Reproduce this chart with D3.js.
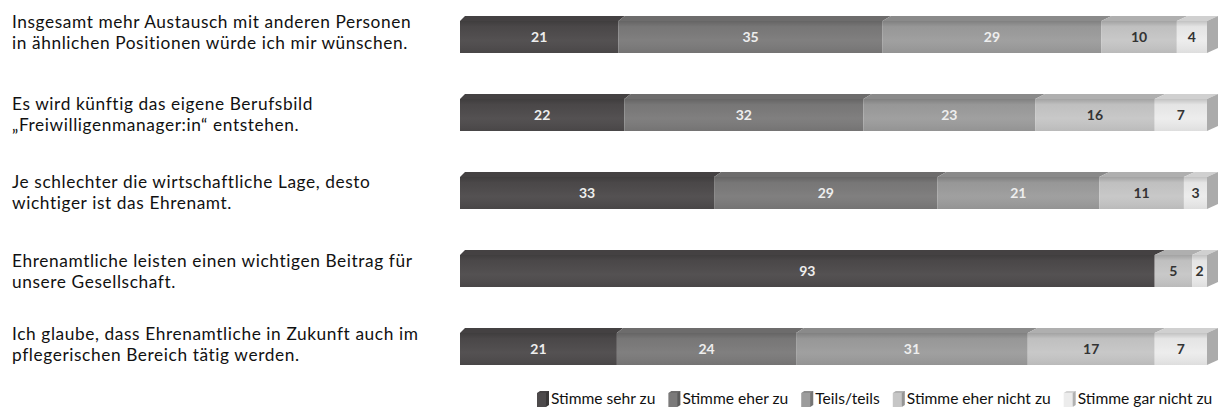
<!DOCTYPE html>
<html>
<head>
<meta charset="utf-8">
<script src="https://cdn.jsdelivr.net/npm/d3@7"></script>
<style>
  body { margin: 0; background: #fff; }
  text { font-family: Lato, "Open Sans", sans-serif; }
</style>
</head>
<body>
<div id="chart"></div>
<script>
var categories = [
  ["Insgesamt mehr Austausch mit anderen Personen", "in ähnlichen Positionen würde ich mir wünschen."],
  ["Es wird künftig das eigene Berufsbild", "„Freiwilligenmanager:in“ entstehen."],
  ["Je schlechter die wirtschaftliche Lage, desto", "wichtiger ist das Ehrenamt."],
  ["Ehrenamtliche leisten einen wichtigen Beitrag für", "unsere Gesellschaft."],
  ["Ich glaube, dass Ehrenamtliche in Zukunft auch im", "pflegerischen Bereich tätig werden."]
];
var seriesNames = ["Stimme sehr zu", "Stimme eher zu", "Teils/teils", "Stimme eher nicht zu", "Stimme gar nicht zu"];
var sehrZu      = [21, 22, 33, 93, 21];
var eherZu      = [35, 32, 29, 0, 24];
var teilsTeils  = [29, 23, 21, 0, 31];
var eherNicht   = [10, 16, 11, 5, 17];
var garNicht    = [4, 7, 3, 2, 7];

var series = [sehrZu, eherZu, teilsTeils, eherNicht, garNicht];
var colors = ["#4d4a4b", "#7b7a7a", "#9c9c9c", "#c6c6c6", "#ececec"];
var labelColors = ["#eeeeee", "#eeeeee", "#eeeeee", "#333333", "#333333"];
// text boxes of the labels are not evenly spaced in the original
var labelNudge = [0, 4, 4, 5, 0];

var width = 1220, height = 408;
var svg = d3.select("#chart").append("svg")
  .attr("width", width)
  .attr("height", height);

var defs = svg.append("defs");
var shade = defs.append("linearGradient").attr("id", "shade")
  .attr("x1", 0).attr("y1", 0).attr("x2", 0).attr("y2", 1);
shade.append("stop").attr("offset", "0%").attr("stop-color", "#000").attr("stop-opacity", 0.18);
shade.append("stop").attr("offset", "18%").attr("stop-color", "#000").attr("stop-opacity", 0.03);
shade.append("stop").attr("offset", "60%").attr("stop-color", "#fff").attr("stop-opacity", 0.04);
shade.append("stop").attr("offset", "100%").attr("stop-color", "#000").attr("stop-opacity", 0.06);

var x_scale = d3.scaleLinear().domain([0, 100]).range([460, 1207]);
var y_scale = d3.scalePoint().domain(d3.range(categories.length)).range([37, 349]);
var barH = 32, depthY = 5;
function depthX(x) { return 5 + (x - 460) / 747 * 6; }

// stack each row, normalised to 100
var rows = categories.map(function(c, i) {
  var total = d3.sum(series, function(s) { return s[i]; });
  var acc = 0;
  var segs = [];
  series.forEach(function(s, k) {
    var v = s[i];
    var x0 = acc / total * 100;
    acc += v;
    var x1 = acc / total * 100;
    if (v > 0) segs.push({ k: k, value: v, x0: x0, x1: x1 });
  });
  return { i: i, segs: segs };
});

var barG = svg.append("g");
rows.forEach(function(row) {
  var cy = y_scale(row.i);
  var top = cy - barH / 2, bot = cy + barH / 2;
  var g = barG.append("g");

  // top faces
  row.segs.forEach(function(s) {
    var a = x_scale(s.x0), b = x_scale(s.x1);
    g.append("path")
      .attr("d", "M" + a + "," + top + "L" + (a + depthX(a)) + "," + (top - depthY) +
        "L" + (b + depthX(b)) + "," + (top - depthY) + "L" + b + "," + top + "Z")
      .attr("fill", d3.color(colors[s.k]).darker(0.35));
  });
  // front faces
  row.segs.forEach(function(s) {
    var a = x_scale(s.x0), b = x_scale(s.x1);
    g.append("rect")
      .attr("x", a).attr("y", top)
      .attr("width", b - a).attr("height", barH)
      .attr("fill", colors[s.k]);
  });
  g.append("rect")
    .attr("x", x_scale(0)).attr("y", top)
    .attr("width", x_scale(100) - x_scale(0)).attr("height", barH)
    .attr("fill", "url(#shade)");
  // side face
  var last = row.segs[row.segs.length - 1];
  var r = x_scale(100), dr = depthX(r);
  g.append("path")
    .attr("d", "M" + r + "," + top + "L" + (r + dr) + "," + (top - depthY) +
      "L" + (r + dr) + "," + (bot - depthY) + "L" + r + "," + bot + "Z")
    .attr("fill", d3.color(colors[last.k]).darker(0.9));
  // value labels
  row.segs.forEach(function(s) {
    g.append("text")
      .attr("x", (x_scale(s.x0) + x_scale(s.x1)) / 2)
      .attr("y", cy + 5)
      .attr("text-anchor", "middle")
      .attr("font-size", 14)
      .attr("font-weight", "bold")
      .attr("fill", labelColors[s.k])
      .text(s.value);
  });
});

// category labels, one text per line
var labG = svg.append("g");
categories.forEach(function(lines, i) {
  var cy = y_scale(i) - 4 + labelNudge[i];
  lines.forEach(function(line, j) {
    labG.append("text")
      .attr("x", 12)
      .attr("y", cy - 5 + j * 21)
      .attr("font-size", 17.3)
      .attr("letter-spacing", 0.6)
      .attr("fill", "#111")
      .text(line);
  });
});

// legend
var legG = svg.append("g");
var lx = 537, ly = 399;
seriesNames.forEach(function(name, k) {
  var c = colors[k];
  legG.append("path")
    .attr("d", "M" + (lx + 3) + "," + (ly - 8) + "L" + (lx + 12) + "," + (ly - 8) +
      "L" + (lx + 12) + "," + (ly + 6) + "L" + (lx + 9) + "," + (ly + 8) + "Z")
    .attr("fill", d3.color(c).darker(0.8));
  legG.append("rect")
    .attr("x", lx).attr("y", ly - 6)
    .attr("width", 9).attr("height", 14)
    .attr("fill", c);
  legG.append("path")
    .attr("d", "M" + lx + "," + (ly - 6) + "L" + (lx + 3) + "," + (ly - 8) +
      "L" + (lx + 12) + "," + (ly - 8) + "L" + (lx + 9) + "," + (ly - 6) + "Z")
    .attr("fill", d3.color(c).darker(0.3));
  var t = legG.append("text")
    .attr("x", lx + 14)
    .attr("y", ly + 5)
    .attr("font-size", 15.6)
    .attr("fill", "#111")
    .text(name);
  lx = lx + 14 + t.node().getComputedTextLength() + 13;
});
</script>
</body>
</html>
